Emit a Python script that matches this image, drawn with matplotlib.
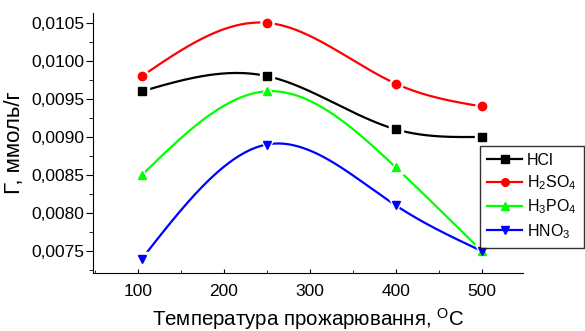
import numpy as np
import matplotlib
matplotlib.use("Agg")
import matplotlib.pyplot as plt
from matplotlib.ticker import MultipleLocator, FuncFormatter

plt.rcParams["font.family"] = ["Liberation Sans", "DejaVu Sans"]
plt.rcParams["mathtext.default"] = "regular"

# temperature of calcination, C
temps = [105, 250, 400, 500]
hcl = [0.0096, 0.0098, 0.0091, 0.0090]
h2so4 = [0.0098, 0.0105, 0.0097, 0.0094]
h3po4 = [0.0085, 0.0096, 0.0086, 0.0075]
hno3 = [0.0074, 0.0089, 0.0081, 0.0075]
labels = ["HCl", "H$_2$SO$_4$", "H$_3$PO$_4$", "HNO$_3$"]


def spline(x, y, n=200):
    # natural cubic spline, like Origin's spline connection
    x = np.asarray(x, float)
    y = np.asarray(y, float)
    k = len(x)
    h = np.diff(x)
    A = np.zeros((k, k))
    b = np.zeros(k)
    A[0, 0] = A[-1, -1] = 1
    for i in range(1, k - 1):
        A[i, i - 1] = h[i - 1]
        A[i, i] = 2 * (h[i - 1] + h[i])
        A[i, i + 1] = h[i]
        b[i] = 6 * ((y[i + 1] - y[i]) / h[i] - (y[i] - y[i - 1]) / h[i - 1])
    m = np.linalg.solve(A, b)
    xs = np.linspace(x[0], x[-1], n)
    idx = np.clip(np.searchsorted(x, xs) - 1, 0, k - 2)
    t = xs - x[idx]
    hi = h[idx]
    a = (m[idx + 1] - m[idx]) / (6 * hi)
    bb = m[idx] / 2
    c = (y[idx + 1] - y[idx]) / hi - hi * (2 * m[idx] + m[idx + 1]) / 6
    ys = y[idx] + c * t + bb * t ** 2 + a * t ** 3
    return xs, ys


fig = plt.figure(figsize=(5.85, 3.31), dpi=100)
ax = fig.add_axes([0.159, 0.175, 0.735, 0.786])

series = [hcl, h2so4, h3po4, hno3]
colors = ["black", "red", "#00ff00", "blue"]
markers = ["s", "o", "^", "v"]

for vals, col, mk, lab in zip(series, colors, markers, labels):
    xs, ys = spline(temps, vals)
    ax.plot(xs, ys, color=col, lw=1.6, zorder=2)
    ax.plot(temps, vals, ls="none", marker=mk, ms=9.5, color="white", mec="white", zorder=3)
    ax.plot(temps, vals, ls="none", marker=mk, ms=6, color=col, mec=col, zorder=4)
    ax.plot([], [], color=col, lw=1.6, marker=mk, ms=5.5, label=lab)

ax.set_xlim(48, 548)
ax.set_ylim(0.00721, 0.01063)
ax.xaxis.set_major_locator(MultipleLocator(100))
ax.xaxis.set_minor_locator(MultipleLocator(50))
ax.yaxis.set_major_locator(MultipleLocator(0.0005))
ax.yaxis.set_minor_locator(MultipleLocator(0.00025))
ax.yaxis.set_major_formatter(FuncFormatter(lambda v, p: f"{v:.4f}".replace(".", ",")))

for s in ["top", "right"]:
    ax.spines[s].set_visible(False)
ax.tick_params(axis="y", which="major", direction="out", length=5, labelsize=12.5, pad=1)
ax.tick_params(axis="y", which="minor", direction="out", length=3)
ax.tick_params(axis="x", which="major", direction="in", length=3, labelsize=12.5, pad=8)
ax.tick_params(axis="x", which="minor", direction="in", length=2)

ax.set_xlabel("Температура прожарювання, $^{O}$C", fontsize=14.8, labelpad=5)
ax.set_ylabel("Г, ммоль/г", fontsize=16, labelpad=5)

leg = ax.legend(loc="upper left", bbox_to_anchor=(0.9, 0.49),
                prop={"size": 11.5},
                frameon=True, fancybox=False, edgecolor="black",
                handlelength=2.2, handletextpad=0.3, labelspacing=0.35,
                borderpad=0.45, borderaxespad=0)
leg.get_frame().set_linewidth(1.0)

fig.savefig("out.png", dpi=100)
